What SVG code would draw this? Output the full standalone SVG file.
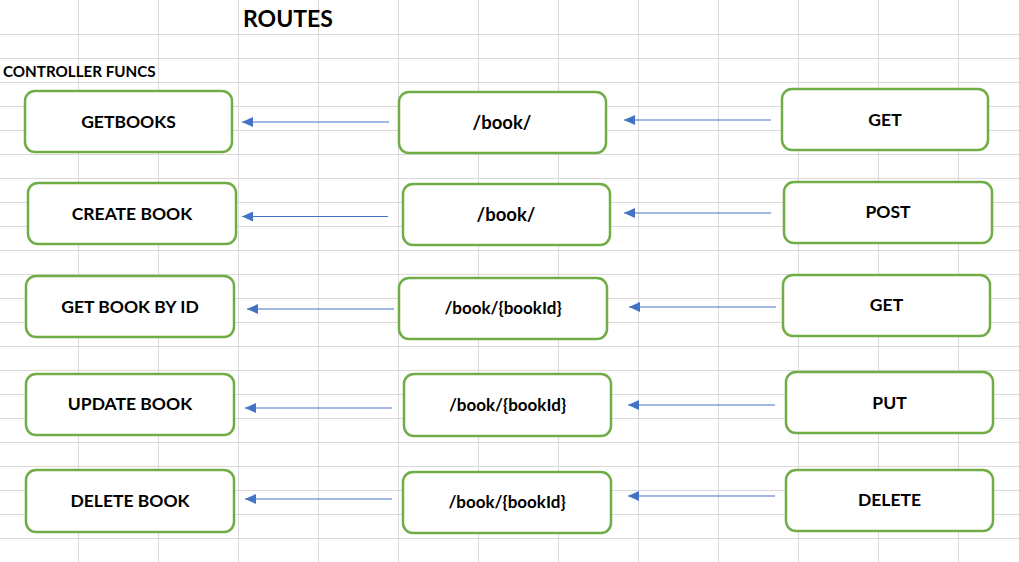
<svg xmlns="http://www.w3.org/2000/svg" width="1019" height="562" viewBox="0 0 1019 562">
<style>
.grid line{stroke:#D9D9D9;stroke-width:1}
.box{fill:#FFFFFF;stroke:#70AD47;stroke-width:2.5}
.lbl{font-family:Lato,"Open Sans","Liberation Sans",sans-serif;font-weight:bold;font-size:17.5px;fill:#000;text-anchor:middle}
.rt{font-size:17px}
.arr{stroke:#4472C4;stroke-width:1.1;fill:none;marker-end:url(#ah)}
</style>
<defs>
<marker id="ah" markerUnits="userSpaceOnUse" markerWidth="12" markerHeight="10" refX="11" refY="5" orient="auto">
<path d="M0,0 L11,5 L0,10 z" fill="#4472C4"/>
</marker>
</defs>
<rect width="1019" height="562" fill="#FFFFFF"/>
<g class="grid">
<line x1="78.5" y1="0" x2="78.5" y2="562"/><line x1="158.5" y1="0" x2="158.5" y2="562"/><line x1="238.5" y1="0" x2="238.5" y2="562"/><line x1="318.5" y1="0" x2="318.5" y2="562"/><line x1="398.5" y1="0" x2="398.5" y2="562"/><line x1="478.5" y1="0" x2="478.5" y2="562"/><line x1="558.5" y1="0" x2="558.5" y2="562"/><line x1="638.5" y1="0" x2="638.5" y2="562"/><line x1="718.5" y1="0" x2="718.5" y2="562"/><line x1="798.5" y1="0" x2="798.5" y2="562"/><line x1="878.5" y1="0" x2="878.5" y2="562"/><line x1="958.5" y1="0" x2="958.5" y2="562"/>
<line x1="0" y1="34.5" x2="1019" y2="34.5"/><line x1="0" y1="58.5" x2="1019" y2="58.5"/><line x1="0" y1="82.5" x2="1019" y2="82.5"/><line x1="0" y1="106.5" x2="1019" y2="106.5"/><line x1="0" y1="130.5" x2="1019" y2="130.5"/><line x1="0" y1="154.5" x2="1019" y2="154.5"/><line x1="0" y1="178.5" x2="1019" y2="178.5"/><line x1="0" y1="202.5" x2="1019" y2="202.5"/><line x1="0" y1="226.5" x2="1019" y2="226.5"/><line x1="0" y1="250.5" x2="1019" y2="250.5"/><line x1="0" y1="274.5" x2="1019" y2="274.5"/><line x1="0" y1="298.5" x2="1019" y2="298.5"/><line x1="0" y1="322.5" x2="1019" y2="322.5"/><line x1="0" y1="346.5" x2="1019" y2="346.5"/><line x1="0" y1="370.5" x2="1019" y2="370.5"/><line x1="0" y1="394.5" x2="1019" y2="394.5"/><line x1="0" y1="418.5" x2="1019" y2="418.5"/><line x1="0" y1="442.5" x2="1019" y2="442.5"/><line x1="0" y1="466.5" x2="1019" y2="466.5"/><line x1="0" y1="490.5" x2="1019" y2="490.5"/><line x1="0" y1="514.5" x2="1019" y2="514.5"/><line x1="0" y1="538.5" x2="1019" y2="538.5"/>
</g>
<g id="titles">
<text x="288" y="27" class="lbl" style="font-size:23px">ROUTES</text>
<text x="3" y="77" class="lbl" style="font-size:15.2px;text-anchor:start">CONTROLLER FUNCS</text>
</g>
<g id="connectors">
<line class="arr" x1="389" y1="122" x2="242" y2="122"/>
<line class="arr" x1="771" y1="120" x2="624" y2="120"/>
<line class="arr" x1="388" y1="216.5" x2="242" y2="216.5"/>
<line class="arr" x1="771" y1="213" x2="624" y2="213"/>
<line class="arr" x1="394" y1="309" x2="247" y2="309"/>
<line class="arr" x1="776" y1="307" x2="629" y2="307"/>
<line class="arr" x1="392" y1="408" x2="245" y2="408"/>
<line class="arr" x1="775" y1="405" x2="628" y2="405"/>
<line class="arr" x1="392" y1="499" x2="245" y2="499"/>
<line class="arr" x1="775" y1="496" x2="628" y2="496"/>
</g>
<g id="getbooks"><rect class="box" x="25" y="91" width="207" height="61" rx="10"/><text class="lbl" x="128.5" y="128">GETBOOKS</text></g>
<g id="route1"><rect class="box" x="399" y="92" width="207" height="61" rx="10"/><text class="lbl" x="502" y="129" style="font-size:18.5px">/book/</text></g>
<g id="get1"><rect class="box" x="782" y="89" width="206" height="61" rx="10"/><text class="lbl" x="885" y="126">GET</text></g>

<g id="createbook"><rect class="box" x="28" y="183" width="208" height="61" rx="10"/><text class="lbl" x="132" y="220">CREATE BOOK</text></g>
<g id="route2"><rect class="box" x="403" y="184" width="207" height="61" rx="10"/><text class="lbl" x="506" y="221" style="font-size:18.5px">/book/</text></g>
<g id="post"><rect class="box" x="784" y="182" width="208" height="61" rx="10"/><text class="lbl" x="888" y="218">POST</text></g>

<g id="getbookbyid"><rect class="box" x="26" y="276" width="208" height="61" rx="10"/><text class="lbl" x="130" y="313">GET BOOK BY ID</text></g>
<g id="route3"><rect class="box" x="399" y="278" width="208" height="61" rx="10"/><text class="lbl rt" x="503" y="314">/book/{bookId}</text></g>
<g id="get3"><rect class="box" x="783" y="275" width="207" height="61" rx="10"/><text class="lbl" x="886.5" y="311">GET</text></g>

<g id="updatebook"><rect class="box" x="26" y="374" width="208" height="61" rx="10"/><text class="lbl" x="130" y="410">UPDATE BOOK</text></g>
<g id="route4"><rect class="box" x="404" y="374" width="207" height="62" rx="10"/><text class="lbl rt" x="507.5" y="411">/book/{bookId}</text></g>
<g id="put"><rect class="box" x="786" y="372" width="207" height="61" rx="10"/><text class="lbl" x="889.5" y="409">PUT</text></g>

<g id="deletebook"><rect class="box" x="26" y="470" width="208" height="62" rx="10"/><text class="lbl" x="130" y="507">DELETE BOOK</text></g>
<g id="route5"><rect class="box" x="403" y="472" width="208" height="61" rx="10"/><text class="lbl rt" x="507" y="508">/book/{bookId}</text></g>
<g id="delete"><rect class="box" x="786" y="470" width="207" height="61" rx="10"/><text class="lbl" x="889.5" y="506">DELETE</text></g>
</svg>
